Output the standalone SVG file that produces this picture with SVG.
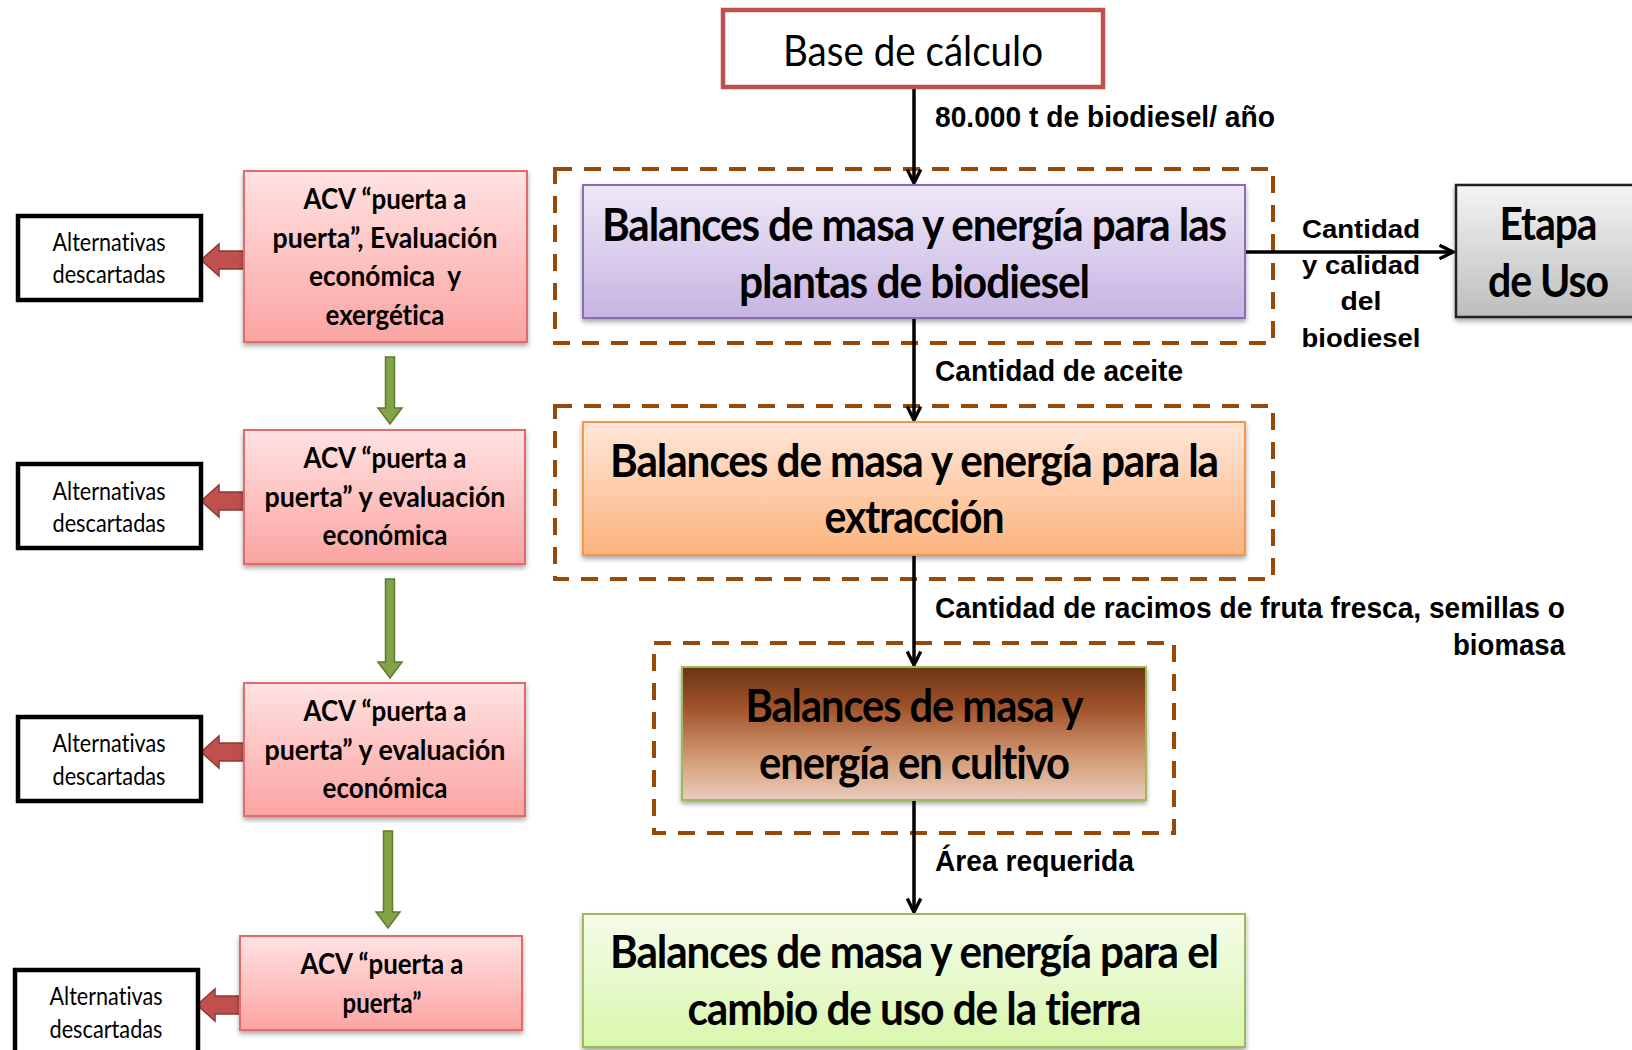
<svg xmlns="http://www.w3.org/2000/svg" width="1632" height="1050" viewBox="0 0 1632 1050">
<defs>
  <linearGradient id="gPink" x1="0" y1="0" x2="0" y2="1"><stop offset="0" stop-color="#FFE2E2"/><stop offset="1" stop-color="#FBA4A2"/></linearGradient>
  <linearGradient id="gPurple" x1="0" y1="0" x2="0" y2="1"><stop offset="0" stop-color="#EEE8F7"/><stop offset="1" stop-color="#C7B4E3"/></linearGradient>
  <linearGradient id="gOrange" x1="0" y1="0" x2="0" y2="1"><stop offset="0" stop-color="#FFE6D8"/><stop offset="1" stop-color="#FCB47E"/></linearGradient>
  <linearGradient id="gBrown" x1="0" y1="0" x2="0" y2="1"><stop offset="0" stop-color="#6A3414"/><stop offset="0.3" stop-color="#A0522A"/><stop offset="0.7" stop-color="#D49D78"/><stop offset="1" stop-color="#EACDBE"/></linearGradient>
  <linearGradient id="gGreen" x1="0" y1="0" x2="0" y2="1"><stop offset="0" stop-color="#F4FCEA"/><stop offset="1" stop-color="#D9F7AC"/></linearGradient>
  <linearGradient id="gGray" x1="0" y1="0" x2="0" y2="1"><stop offset="0" stop-color="#F4F4F4"/><stop offset="1" stop-color="#BDBDBD"/></linearGradient>
  <filter id="sh" x="-5%" y="-5%" width="110%" height="125%"><feDropShadow dx="0" dy="3" stdDeviation="2.5" flood-color="#000" flood-opacity="0.35"/></filter>
  <marker id="ah" viewBox="0 0 16 16" refX="14" refY="8" markerWidth="18" markerHeight="18" markerUnits="userSpaceOnUse" orient="auto">
    <path d="M2,2 L14,8 L2,14" fill="none" stroke="#000" stroke-width="3"/>
  </marker>
  <path id="redArrow" d="M201,0 L219,-16 L219,-9 L246,-9 L246,9 L219,9 L219,16 Z"/>
</defs>
<style>
  text { font-variant-ligatures: none; font-feature-settings: "liga" 0, "clig" 0; }
  .big { font-family: Lato, "Open Sans", "Liberation Sans", sans-serif; font-weight: bold; font-size: 46px; letter-spacing: -1.2px; fill: #000; text-anchor: middle; }
  .lbl { font-family: "Liberation Sans", Arial, sans-serif; font-weight: bold; font-size: 29px; fill: #000; }
  .lbs { font-family: "Liberation Sans", Arial, sans-serif; font-weight: bold; font-size: 26px; fill: #000; text-anchor: middle; }
  .pk { font-family: Lato, "Open Sans", "Liberation Sans", sans-serif; font-weight: bold; font-size: 28px; fill: #000; text-anchor: middle; }
  .alt { font-family: Lato, "Open Sans", "Liberation Sans", sans-serif; font-size: 25px; fill: #000; text-anchor: middle; }
  .base { font-family: Lato, "Open Sans", "Liberation Sans", sans-serif; font-size: 43px; fill: #000; text-anchor: middle; }
  .pinkbox { fill: url(#gPink); stroke: #E26B69; stroke-width: 2; filter: url(#sh); }
  .altbox { fill: #fff; stroke: #000; stroke-width: 4.5; }
  .dash { fill: none; stroke: #984807; stroke-width: 4; stroke-dasharray: 17 12; }
  .conn { fill: none; stroke: #000; stroke-width: 3.5; marker-end: url(#ah); }
  .red { fill: #C0504D; stroke: #8C3836; stroke-width: 1.5; }
  .grn { fill: #82A346; stroke: #5E7A2C; stroke-width: 1.5; }
</style>

<g id="dashed-groups">
  <rect class="dash" x="555" y="169" width="718" height="174"/>
  <rect class="dash" x="555" y="406" width="718" height="173"/>
  <rect class="dash" x="654" y="643" width="520" height="190"/>
</g>

<g id="connectors">
  <path class="conn" d="M914,87 V183"/>
  <path class="conn" d="M914,318 V420"/>
  <path class="conn" d="M914,555 V665"/>
  <path class="conn" d="M914,800 V912"/>
  <path class="conn" d="M1245,252 H1453" stroke-width="5"/>
  <path class="grn" d="M385.5,357 H394.5 V408 H402 L390,424 L378,408 H385.5 Z"/>
  <path class="grn" d="M385.5,579 H394.5 V662 H402 L390,678 L378,662 H385.5 Z"/>
  <path class="grn" d="M383.5,831 H392.5 V912 H400 L388,928 L376,912 H383.5 Z"/>
  <use href="#redArrow" class="red" transform="translate(0,260)"/>
  <use href="#redArrow" class="red" transform="translate(0,501)"/>
  <use href="#redArrow" class="red" transform="translate(0,752)"/>
  <use href="#redArrow" class="red" transform="translate(-4,1005)"/>
  <text class="lbl" x="935" y="127" textLength="340" lengthAdjust="spacingAndGlyphs">80.000 t de biodiesel/ año</text>
  <text class="lbl" x="935" y="381" textLength="248" lengthAdjust="spacingAndGlyphs">Cantidad de aceite</text>
  <text class="lbl" x="935" y="618" textLength="630" lengthAdjust="spacingAndGlyphs">Cantidad de racimos de fruta fresca, semillas o</text>
  <text class="lbl" x="1565" y="655" text-anchor="end" textLength="112" lengthAdjust="spacingAndGlyphs">biomasa</text>
  <text class="lbl" x="935" y="871" textLength="199" lengthAdjust="spacingAndGlyphs">Área requerida</text>
  <text class="lbs" x="1361" y="238" textLength="118" lengthAdjust="spacingAndGlyphs">Cantidad</text>
  <text class="lbs" x="1361" y="274" textLength="118" lengthAdjust="spacingAndGlyphs">y calidad</text>
  <text class="lbs" x="1361" y="310" textLength="41" lengthAdjust="spacingAndGlyphs">del</text>
  <text class="lbs" x="1361" y="347" textLength="119" lengthAdjust="spacingAndGlyphs">biodiesel</text>
</g>

<g id="base">
  <rect x="723" y="10" width="380" height="77" fill="#fff" stroke="#C0504D" stroke-width="4.5"/>
  <text class="base" x="913" y="66" textLength="260" lengthAdjust="spacingAndGlyphs">Base de cálculo</text>
</g>

<g id="plantas">
  <rect x="583" y="185" width="662" height="133" fill="url(#gPurple)" stroke="#8A6DB5" stroke-width="2" filter="url(#sh)"/>
  <text class="big" x="914" y="241" textLength="624" lengthAdjust="spacingAndGlyphs">Balances de masa y energía para las</text>
  <text class="big" x="914" y="298" textLength="350" lengthAdjust="spacingAndGlyphs">plantas de biodiesel</text>
</g>

<g id="etapa">
  <rect x="1456" y="185" width="190" height="132" fill="url(#gGray)" stroke="#222" stroke-width="2.5" filter="url(#sh)"/>
  <text class="big" x="1548" y="240" textLength="97" lengthAdjust="spacingAndGlyphs">Etapa</text>
  <text class="big" x="1548" y="297" textLength="120" lengthAdjust="spacingAndGlyphs">de Uso</text>
</g>

<g id="extraccion">
  <rect x="583" y="422" width="662" height="133" fill="url(#gOrange)" stroke="#F79646" stroke-width="2" filter="url(#sh)"/>
  <text class="big" x="914" y="477" textLength="608" lengthAdjust="spacingAndGlyphs">Balances de masa y energía para la</text>
  <text class="big" x="914" y="533" textLength="179" lengthAdjust="spacingAndGlyphs">extracción</text>
</g>

<g id="cultivo">
  <rect x="682" y="667" width="464" height="133" fill="url(#gBrown)" stroke="#9BBB59" stroke-width="2" filter="url(#sh)"/>
  <text class="big" x="914" y="722" textLength="337" lengthAdjust="spacingAndGlyphs">Balances de masa y</text>
  <text class="big" x="914" y="779" textLength="310" lengthAdjust="spacingAndGlyphs">energía en cultivo</text>
</g>

<g id="cambio-uso">
  <rect x="583" y="914" width="662" height="133" fill="url(#gGreen)" stroke="#9BBB59" stroke-width="2" filter="url(#sh)"/>
  <text class="big" x="914" y="968" textLength="608" lengthAdjust="spacingAndGlyphs">Balances de masa y energía para el</text>
  <text class="big" x="914" y="1025" textLength="453" lengthAdjust="spacingAndGlyphs">cambio de uso de la tierra</text>
</g>

<g id="acv1">
  <rect class="pinkbox" x="244" y="171" width="283" height="171"/>
  <text class="pk" x="385" y="209" textLength="163" lengthAdjust="spacingAndGlyphs">ACV “puerta a</text>
  <text class="pk" x="385" y="248" textLength="225" lengthAdjust="spacingAndGlyphs">puerta”, Evaluación</text>
  <text class="pk" x="385" y="286" textLength="152" lengthAdjust="spacingAndGlyphs" xml:space="preserve">económica  y</text>
  <text class="pk" x="385" y="325" textLength="119" lengthAdjust="spacingAndGlyphs">exergética</text>
</g>
<g id="acv2">
  <rect class="pinkbox" x="244" y="430" width="281" height="134"/>
  <text class="pk" x="385" y="468" textLength="163" lengthAdjust="spacingAndGlyphs">ACV “puerta a</text>
  <text class="pk" x="385" y="507" textLength="241" lengthAdjust="spacingAndGlyphs">puerta” y evaluación</text>
  <text class="pk" x="385" y="545" textLength="125" lengthAdjust="spacingAndGlyphs">económica</text>
</g>
<g id="acv3">
  <rect class="pinkbox" x="244" y="683" width="281" height="133"/>
  <text class="pk" x="385" y="721" textLength="163" lengthAdjust="spacingAndGlyphs">ACV “puerta a</text>
  <text class="pk" x="385" y="760" textLength="241" lengthAdjust="spacingAndGlyphs">puerta” y evaluación</text>
  <text class="pk" x="385" y="798" textLength="125" lengthAdjust="spacingAndGlyphs">económica</text>
</g>
<g id="acv4">
  <rect class="pinkbox" x="240" y="936" width="282" height="94"/>
  <text class="pk" x="382" y="974" textLength="163" lengthAdjust="spacingAndGlyphs">ACV “puerta a</text>
  <text class="pk" x="382" y="1013" textLength="79" lengthAdjust="spacingAndGlyphs">puerta”</text>
</g>

<g id="alt1">
  <rect class="altbox" x="18" y="216" width="183" height="84"/>
  <text class="alt" x="109" y="251" textLength="113" lengthAdjust="spacingAndGlyphs">Alternativas</text>
  <text class="alt" x="109" y="283" textLength="113" lengthAdjust="spacingAndGlyphs">descartadas</text>
</g>
<g id="alt2">
  <rect class="altbox" x="18" y="464" width="183" height="84"/>
  <text class="alt" x="109" y="500" textLength="113" lengthAdjust="spacingAndGlyphs">Alternativas</text>
  <text class="alt" x="109" y="532" textLength="113" lengthAdjust="spacingAndGlyphs">descartadas</text>
</g>
<g id="alt3">
  <rect class="altbox" x="18" y="717" width="183" height="84"/>
  <text class="alt" x="109" y="752" textLength="113" lengthAdjust="spacingAndGlyphs">Alternativas</text>
  <text class="alt" x="109" y="785" textLength="113" lengthAdjust="spacingAndGlyphs">descartadas</text>
</g>
<g id="alt4">
  <rect class="altbox" x="15" y="970" width="183" height="95"/>
  <text class="alt" x="106" y="1005" textLength="113" lengthAdjust="spacingAndGlyphs">Alternativas</text>
  <text class="alt" x="106" y="1038" textLength="113" lengthAdjust="spacingAndGlyphs">descartadas</text>
</g>
</svg>
